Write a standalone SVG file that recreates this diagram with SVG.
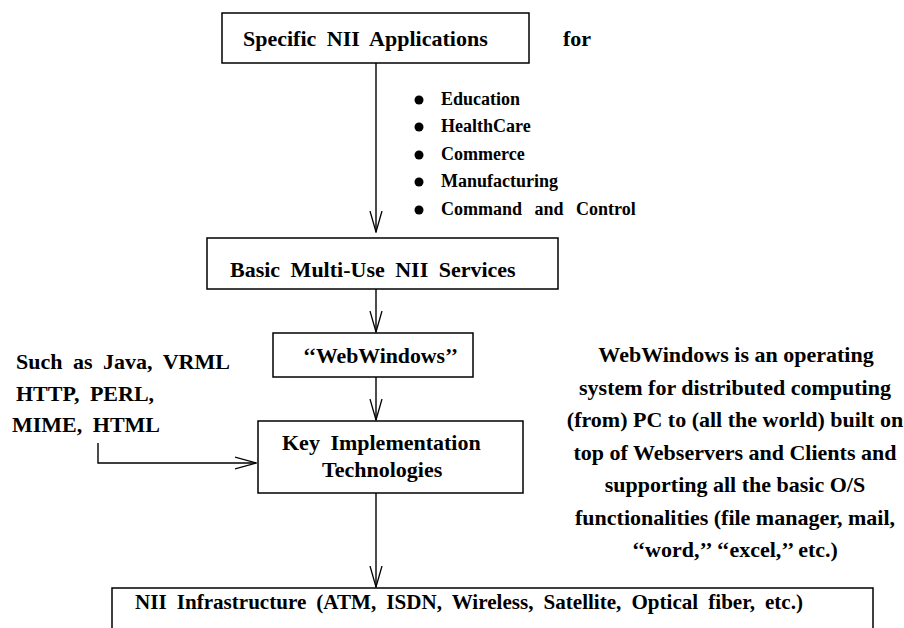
<svg xmlns="http://www.w3.org/2000/svg" width="904" height="628" viewBox="0 0 904 628">
<style>
text{font-family:'Liberation Serif','DejaVu Serif','Times New Roman',serif;font-weight:700;fill:#000}
.b{font-size:22px;word-spacing:5px}
.s{font-size:18px;word-spacing:8px}
.p{font-size:22px;text-anchor:middle}
.box{fill:#fff;stroke:#000;stroke-width:1.5}
.ln{fill:none;stroke:#000;stroke-width:1.4}
</style>
<defs>
<marker id="v" viewBox="0 0 22 14" refX="21" refY="7" markerWidth="22" markerHeight="14" markerUnits="userSpaceOnUse" orient="auto">
<path d="M0,1 L21,7 L0,13" fill="none" stroke="#000" stroke-width="1.3"/>
</marker>
</defs>
<g id="connectors">
<line class="ln" x1="376" y1="63" x2="376" y2="232" marker-end="url(#v)"/>
<line class="ln" x1="376" y1="289" x2="376" y2="332" marker-end="url(#v)"/>
<line class="ln" x1="376" y1="377" x2="376" y2="420" marker-end="url(#v)"/>
<line class="ln" x1="376" y1="493" x2="376" y2="587" marker-end="url(#v)"/>
<polyline class="ln" points="98,443 98,463 256,463" marker-end="url(#v)"/>
</g>
<g id="apps">
<rect class="box" x="222" y="13" width="307" height="50"/>
<text class="b" x="243" y="46">Specific NII Applications</text>
<text class="b" x="563" y="46">for</text>
</g>
<g id="bullets">
<circle cx="419" cy="100" r="4.5"/><text class="s" x="441" y="105">Education</text>
<circle cx="419" cy="127" r="4.5"/><text class="s" x="441" y="132">HealthCare</text>
<circle cx="419" cy="155" r="4.5"/><text class="s" x="441" y="160">Commerce</text>
<circle cx="419" cy="182" r="4.5"/><text class="s" x="441" y="187">Manufacturing</text>
<circle cx="419" cy="210" r="4.5"/><text class="s" x="441" y="215">Command and Control</text>
</g>
<g id="services">
<rect class="box" x="207" y="238" width="351" height="51"/>
<text class="b" x="230" y="277">Basic Multi-Use NII Services</text>
</g>
<g id="webwindows">
<rect class="box" x="273" y="333" width="200" height="44"/>
<text class="b" x="303" y="363" textLength="155" lengthAdjust="spacingAndGlyphs">‘‘WebWindows’’</text>
</g>
<g id="key">
<rect class="box" x="258" y="421" width="265" height="72"/>
<text class="b" x="282" y="450">Key Implementation</text>
<text class="b" x="322" y="477">Technologies</text>
</g>
<g id="such">
<text class="b" x="16" y="369">Such as Java, VRML</text>
<text class="b" x="16" y="401">HTTP, PERL,</text>
<text class="b" x="12" y="432">MIME, HTML</text>
</g>
<g id="description">
<text class="p" x="736" y="362">WebWindows is an operating</text>
<text class="p" x="735" y="395">system for distributed computing</text>
<text class="p" x="735" y="427">(from) PC to (all the world) built on</text>
<text class="p" x="735" y="460">top of Webservers and Clients and</text>
<text class="p" x="735" y="492">supporting all the basic O/S</text>
<text class="p" x="735" y="525">functionalities (file manager, mail,</text>
<text class="p" x="735" y="557">‘‘word,’’ ‘‘excel,’’ etc.)</text>
</g>
<g id="infrastructure">
<rect class="box" x="112" y="588" width="761" height="60"/>
<text class="b" x="135" y="609" textLength="668" lengthAdjust="spacingAndGlyphs">NII  Infrastructure  (ATM, ISDN, Wireless, Satellite, Optical fiber, etc.)</text>
</g>
</svg>
